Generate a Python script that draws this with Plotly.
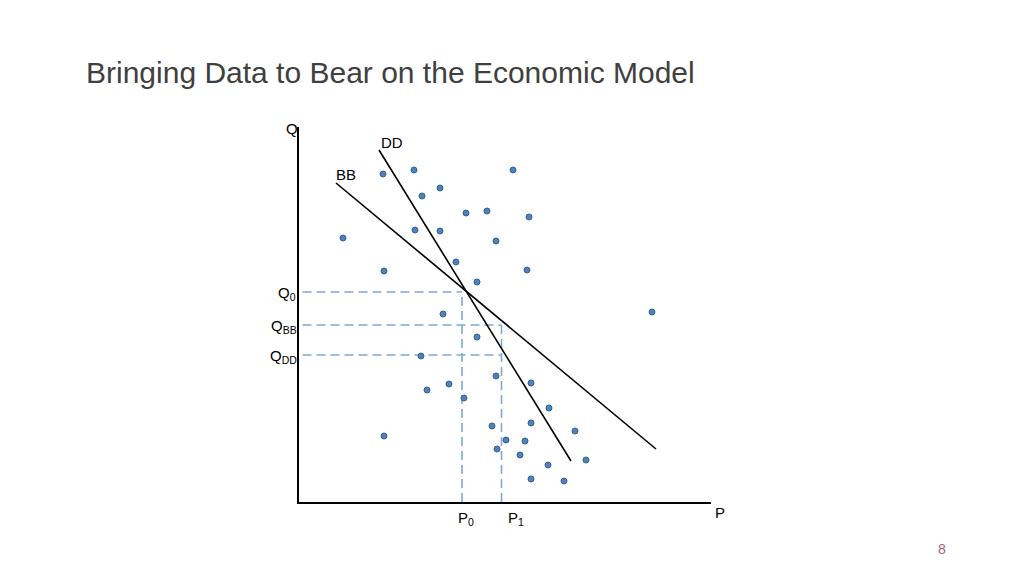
import plotly.graph_objects as go

# ---- data (P, Q in model units) ----
pts_p = [8.4, 11.5, 21.4, 14.1, 12.3, 16.7, 18.8, 23.0, 11.6, 14.1, 4.4, 19.7, 15.7,
         8.5, 22.8, 17.8, 35.3, 14.4, 17.8, 12.2, 19.7, 12.8, 15.0, 23.2, 16.5, 25.0,
         23.2, 19.3, 27.6, 8.5, 20.7, 22.6, 19.8, 22.1, 24.9, 28.7, 23.2, 26.5]
pts_q = [32.8, 33.2, 33.2, 31.4, 30.6, 28.9, 29.1, 28.5, 27.2, 27.1, 26.4, 26.1, 24.0,
         23.1, 23.2, 22.0, 19.0, 18.8, 16.5, 14.6, 12.6, 11.2, 11.8, 11.9, 10.4, 9.4,
         7.9, 7.6, 7.1, 6.6, 6.2, 6.1, 5.3, 4.7, 3.7, 4.2, 2.3, 2.1]

bb_p = [3.7, 35.7]
bb_q = [31.9, 5.3]
dd_p = [8.0, 27.2]
dd_q = [35.2, 4.1]

q_levels = [21.0, 17.7, 14.7]        # Q0, QBB, QDD
q_ends = [16.3, 20.25, 20.25]        # where each horizontal guide ends
p_levels = [16.3, 20.25]             # P0, P1
p_tops = [21.0, 17.7]

x_max = 41.2
y_max = 37.5

OFF = 8  # page body margin
W, H = 1024 - OFF, 575 - OFF
x0_px, x1_px = 299, 711
y0_px, y1_px = 502, 127

def px(x):
    return (x - OFF) / W

def py(y):
    return 1 - (y - OFF) / H

fig = go.Figure()

guide = dict(color="#7FA8D6", width=1.6, dash="9px,5px")
for q, e in zip(q_levels, q_ends):
    fig.add_trace(go.Scatter(x=[0.35, e], y=[q, q], mode="lines", line=guide,
                             hoverinfo="skip", showlegend=False))
for p, t in zip(p_levels, p_tops):
    fig.add_trace(go.Scatter(x=[p, p], y=[0, t], mode="lines", line=guide,
                             hoverinfo="skip", showlegend=False))

fig.add_trace(go.Scatter(x=bb_p, y=bb_q, mode="lines",
                         line=dict(color="black", width=1.6), showlegend=False))
fig.add_trace(go.Scatter(x=dd_p, y=dd_q, mode="lines",
                         line=dict(color="black", width=1.6), showlegend=False))

fig.add_trace(go.Scatter(x=pts_p, y=pts_q, mode="markers",
                         marker=dict(size=6, color="#4F81BD",
                                     line=dict(color="#35618F", width=1)),
                         showlegend=False))

fig.update_xaxes(domain=[px(x0_px), px(x1_px)], range=[0, x_max],
                 showgrid=False, zeroline=False, showticklabels=False, ticks="",
                 showline=True, linecolor="black", linewidth=2)
fig.update_yaxes(domain=[py(y0_px), py(y1_px)], range=[0, y_max],
                 showgrid=False, zeroline=False, showticklabels=False, ticks="",
                 showline=True, linecolor="black", linewidth=2)

font_lbl = dict(family="Liberation Sans, Arial, sans-serif", size=15, color="#000000")
anns = [
    ("Q", 292, 128, "center"),
    ("DD", 392, 142, "center"),
    ("BB", 346, 174, "center"),
    ("Q<sub>0</sub>", 298, 293, "right"),
    ("Q<sub>BB</sub>", 299, 326, "right"),
    ("Q<sub>DD</sub>", 299, 356, "right"),
    ("P<sub>0</sub>", 466, 518, "center"),
    ("P<sub>1</sub>", 516, 518, "center"),
    ("P", 720, 512, "center"),
]
for text, x, y, anchor in anns:
    fig.add_annotation(text=text, x=px(x), y=py(y), xref="paper", yref="paper",
                       xanchor=anchor, yanchor="middle", showarrow=False, font=font_lbl)

fig.add_annotation(text="Bringing Data to Bear on the Economic Model",
                   x=px(84), y=py(72), xref="paper", yref="paper",
                   xanchor="left", yanchor="middle", showarrow=False,
                   font=dict(family="Liberation Sans, Arial, sans-serif", size=30,
                             color="#404040"))
fig.add_annotation(text="8", x=px(941.5), y=py(549), xref="paper", yref="paper",
                   xanchor="center", yanchor="middle", showarrow=False,
                   font=dict(family="Liberation Sans, Arial, sans-serif", size=14,
                             color="#A0607F"))

fig.update_layout(width=W, height=H, margin=dict(l=0, r=0, t=0, b=0),
                  paper_bgcolor="white", plot_bgcolor="white")

fig.write_html("out.html")
